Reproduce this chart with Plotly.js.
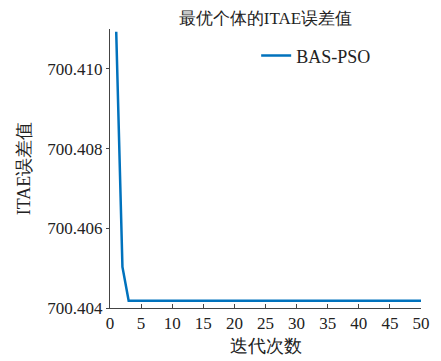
<!DOCTYPE html>
<html>
<head>
<meta charset="utf-8">
<script src="https://cdn.plot.ly/plotly-3.0.1.min.js"></script>
<style>
html,body{margin:0;padding:0;background:#fff;}
#chart{width:441px;height:361px;}
</style>
</head>
<body>
<div id="chart"></div>
<script>
const iterations = Array.from({length: 50}, (_, i) => i + 1);
const headValues = [700.41093, 700.40503, 700.40418];
const plateauValue = 700.40418;
const itaeValues = iterations.map((it, i) => i < headValues.length ? headValues[i] : plateauValue);
const xTickVals = [0, 5, 10, 15, 20, 25, 30, 35, 40, 45, 50];
const yTickVals = [700.404, 700.406, 700.408, 700.410];
const yTickText = ['700.404', '700.406', '700.408', '700.410'];

const serif = 'serif';

const trace = {
  x: iterations,
  y: itaeValues,
  type: 'scatter',
  mode: 'lines',
  name: 'BAS-PSO',
  line: {color: '#0072BD', width: 2.5}
};

const layout = {
  width: 441, height: 361,
  font: {family: serif},
  margin: {l: 110, r: 20, t: 29, b: 53},
  paper_bgcolor: '#fff', plot_bgcolor: '#fff',
  title: {text: '最优个体的ITAE误差值', font: {family: serif, size: 17, color: '#222'}, x: 0.602, xanchor: 'center', y: 0.95, yanchor: 'middle'},
  showlegend: true,
  legend: {x: 0.47, y: 0.97, xanchor: 'left', yanchor: 'top', bgcolor: 'rgba(0,0,0,0)', font: {family: serif, size: 18, color: '#222'}},
  xaxis: {
    range: [0, 50], tickvals: xTickVals, ticks: 'inside', ticklen: 4, tickcolor: '#444',
    showline: true, linecolor: '#444', linewidth: 1, showgrid: false, zeroline: false, mirror: false,
    tickfont: {family: serif, size: 17, color: '#222'},
    title: {text: '迭代次数', font: {family: serif, size: 18, color: '#222'}, standoff: 6}
  },
  yaxis: {
    range: [700.404, 700.411], tickvals: yTickVals, ticktext: yTickText, ticks: 'outside', ticklen: 3, tickcolor: '#444',
    showline: true, linecolor: '#444', linewidth: 1, showgrid: false, zeroline: false, mirror: false,
    tickfont: {family: serif, size: 17, color: '#222'},
    title: {text: 'ITAE误差值', font: {family: serif, size: 18, color: '#222'}, standoff: 12}
  }
};

Plotly.newPlot('chart', [trace], layout, {displayModeBar: false, staticPlot: true});
</script>
</body>
</html>
